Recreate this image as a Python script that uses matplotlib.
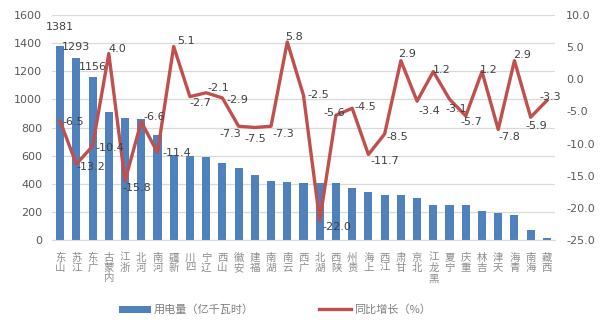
import matplotlib
matplotlib.use("Agg")
import matplotlib.pyplot as plt
import numpy as np

plt.rcParams["font.family"] = ["DejaVu Sans", "Noto Sans CJK SC"]
plt.rcParams["axes.unicode_minus"] = False

provinces = ["山东", "江苏", "广东", "内蒙古", "浙江", "河北", "河南", "新疆", "四川", "辽宁",
             "山西", "安徽", "福建", "湖南", "云南", "广西", "湖北", "陕西", "贵州", "上海",
             "江西", "甘肃", "北京", "黑龙江", "宁夏", "重庆", "吉林", "天津", "青海", "海南", "西藏"]
usage = [1381, 1293, 1156, 912, 865, 858, 748, 604, 597, 588,
         545, 514, 460, 422, 412, 406, 408, 403, 367, 344,
         320, 320, 296, 251, 251, 246, 204, 194, 178, 71, 14]
growth = [-6.5, -13.2, -10.4, 4.0, -15.8, -6.6, -11.4, 5.1, -2.7, -2.1,
          -2.9, -7.3, -7.5, -7.3, 5.8, -2.5, -22.0, -5.6, -4.5, -11.7,
          -8.5, 2.9, -3.4, 1.2, -3.1, -5.7, 1.2, -7.8, 2.9, -5.9, -3.3]
labelled_bars = 3   # only the top three bars carry a value label

# nudges (pixels, x right / y down) for the growth labels, left-aligned
growth_nudge = [(2, 1), (0, 3), (3, 2), (0, -5), (-3, 7), (2, -5), (5, 0), (3, -5), (0, 6), (1, -5),
                (4, 2), (-19, 8), (-10, 12), (1, 8), (-2, -5), (4, 0), (3, 6), (-12, -2), (2, -1), (2, 6),
                (2, 3), (-3, -7), (1, 10), (0, -2), (-4, 10), (-5, 6), (-2, -2), (0, 8), (-1, -6), (-5, 9), (-7, -4)]
bar_nudge = [14, 6, 5]

BLUE = "#4F81BD"
RED = "#C0504D"
TICK = "#595959"

fig = plt.figure(figsize=(6.04, 3.28), dpi=100)
ax = fig.add_axes([52 / 604, 1 - 240 / 328, 503 / 604, 225 / 328])
x = np.arange(len(provinces))

bars = ax.bar(x, usage, width=0.5, color=BLUE, zorder=2, label="用电量（亿千瓦时）")
ax.set_xlim(-0.5, len(provinces) - 0.5)
ax.set_ylim(0, 1600)
ax.set_yticks(np.arange(0, 1601, 200))
ax.yaxis.grid(True, color="#D9D9D9", linewidth=0.9, zorder=0)
ax.set_axisbelow(True)
for s in ["top", "right", "left"]:
    ax.spines[s].set_visible(False)
ax.spines["bottom"].set_color("#D9D9D9")
ax.tick_params(axis="y", length=0, pad=7, labelsize=8, labelcolor=TICK)
ax.tick_params(axis="x", length=0, pad=9)

# vertical stacked names, read bottom-to-top
ax.set_xticks(x)
ax.set_xticklabels(["\n".join(reversed(p)) for p in provinces], fontsize=7.5,
                   family=["Noto Sans CJK SC"], color="#8C8C8C", linespacing=1.05, va="top")

for i in range(labelled_bars):
    ax.annotate(str(usage[i]), (x[i], usage[i]), xytext=(0, bar_nudge[i]),
                textcoords="offset pixels", ha="center", va="bottom",
                fontsize=8, color="#404040")

ax2 = ax.twinx()
line, = ax2.plot(x, growth, color=RED, linewidth=2.4, zorder=3, label="同比增长（%）")
ax2.set_ylim(-25, 10)
ax2.set_yticks(np.arange(-25, 10.1, 5))
ax2.set_yticklabels([f"{v:.1f}" for v in np.arange(-25, 10.1, 5)])
for s in ["top", "right", "left", "bottom"]:
    ax2.spines[s].set_visible(False)
ax2.tick_params(axis="y", length=0, pad=8, labelsize=8, labelcolor=TICK)

for i, v in enumerate(growth):
    dx, dy = growth_nudge[i]
    ax2.annotate(f"{v:.1f}", (x[i], v), xytext=(dx, -dy), textcoords="offset pixels",
                 ha="left", va="center", fontsize=8, color="#404040", zorder=4)

fig.legend([bars, line], ["用电量（亿千瓦时）", "同比增长（%）"], loc="center",
           bbox_to_anchor=(0.455, 0.055), ncol=2, frameon=False, handlelength=2.9,
           handletextpad=0.3, columnspacing=5.8,
           prop={"family": ["Noto Sans CJK SC"], "size": 8}, labelcolor="#7F7F7F")

plt.savefig("out.png", dpi=100)
plt.close()
